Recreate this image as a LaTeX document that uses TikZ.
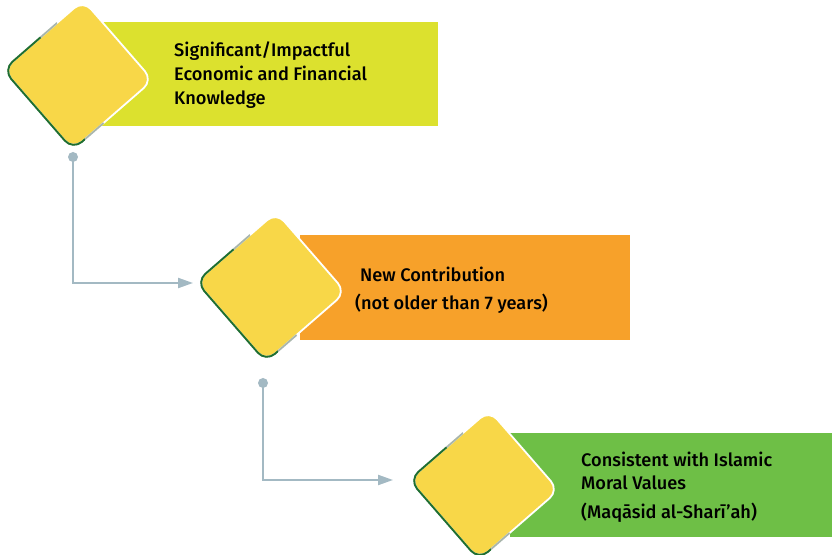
\documentclass[tikz,border=0pt]{standalone}
\usepackage{fontspec}
\setmainfont{Fira Sans}[BoldFont={Fira Sans Medium}]
\usetikzlibrary{arrows.meta}
\definecolor{clime}{HTML}{DCE12E}
\definecolor{corange}{HTML}{F7A12A}
\definecolor{cgreen}{HTML}{6EBF46}
\definecolor{dyellow}{HTML}{F8D748}
\definecolor{dgreen}{HTML}{1E6F30}
\definecolor{dgray}{HTML}{A9B6AC}
\definecolor{conn}{HTML}{A3B9C3}
\tikzset{
  band/.style={fill=#1, draw=none},
  diam/.style={rectangle, rounded corners=12pt, minimum width=106pt, minimum height=106pt, inner sep=0pt, fill=dyellow, draw=white, line width=1.8pt, rotate=41},
  diamedge/.style={diam, fill=none, draw=#1},
  dot/.style={circle, fill=conn, minimum size=10pt, inner sep=0pt},
  link/.style={draw=conn, line width=2.2pt, -{Triangle[length=15pt,width=10pt]}},
  lbl/.style={anchor=base west, inner sep=0pt, font=\bfseries\fontsize{18.2}{22}\selectfont, text=black}
}
\newcommand{\diamondat}[2]{%
  \node[diam] (#1) at (#2) {};
  \begin{scope}
    \clip (#2) -- +(112:130) -- +(190:160) -- +(298:130) -- cycle;
    \node[diamedge=dgray] (#1g) at (#2) {};
  \end{scope}
  \begin{scope}
    \clip (#2) -- +(135:130) -- +(205:160) -- +(276:130) -- cycle;
    \node[diamedge=dgreen] (#1h) at (#2) {};
  \end{scope}
}
\begin{document}
\begin{tikzpicture}[x=1pt,y=1pt]
\useasboundingbox[fill=white] (0,0) rectangle (832,554);
% bands
\fill[band=clime] (100,428) rectangle (438,532);
\fill[band=corange] (300,214) rectangle (630,319);
\fill[band=cgreen] (510,17) rectangle (832,121);
% diamonds
\diamondat{d1}{78,479}
\diamondat{d2}{271,267}
\diamondat{d3}{484,69}
% connectors
\node[dot] (p1) at (73,397) {};
\node[dot] (p2) at (263,171) {};
\coordinate (a1) at (193,271);
\coordinate (a2) at (393,74);
\draw[link] (p1.center) |- (a1);
\draw[link] (p2.center) |- (a2);
% labels
\node[lbl] (t11) at (174,497) {Significant/Impactful};
\node[lbl] (t12) at (174,473) {Economic and Financial};
\node[lbl] (t13) at (174,449) {Knowledge};
\node[lbl] (t21) at (360,272) {New Contribution};
\node[lbl] (t22) at (355,244) {(not older than 7 years)};
\node[lbl] (t31) at (581,87) {Consistent with Islamic};
\node[lbl] (t32) at (581,64) {Moral Values};
\node[lbl] (t33) at (581,36) {(Maqāsid al-Sharī’ah)};
\end{tikzpicture}
\end{document}
